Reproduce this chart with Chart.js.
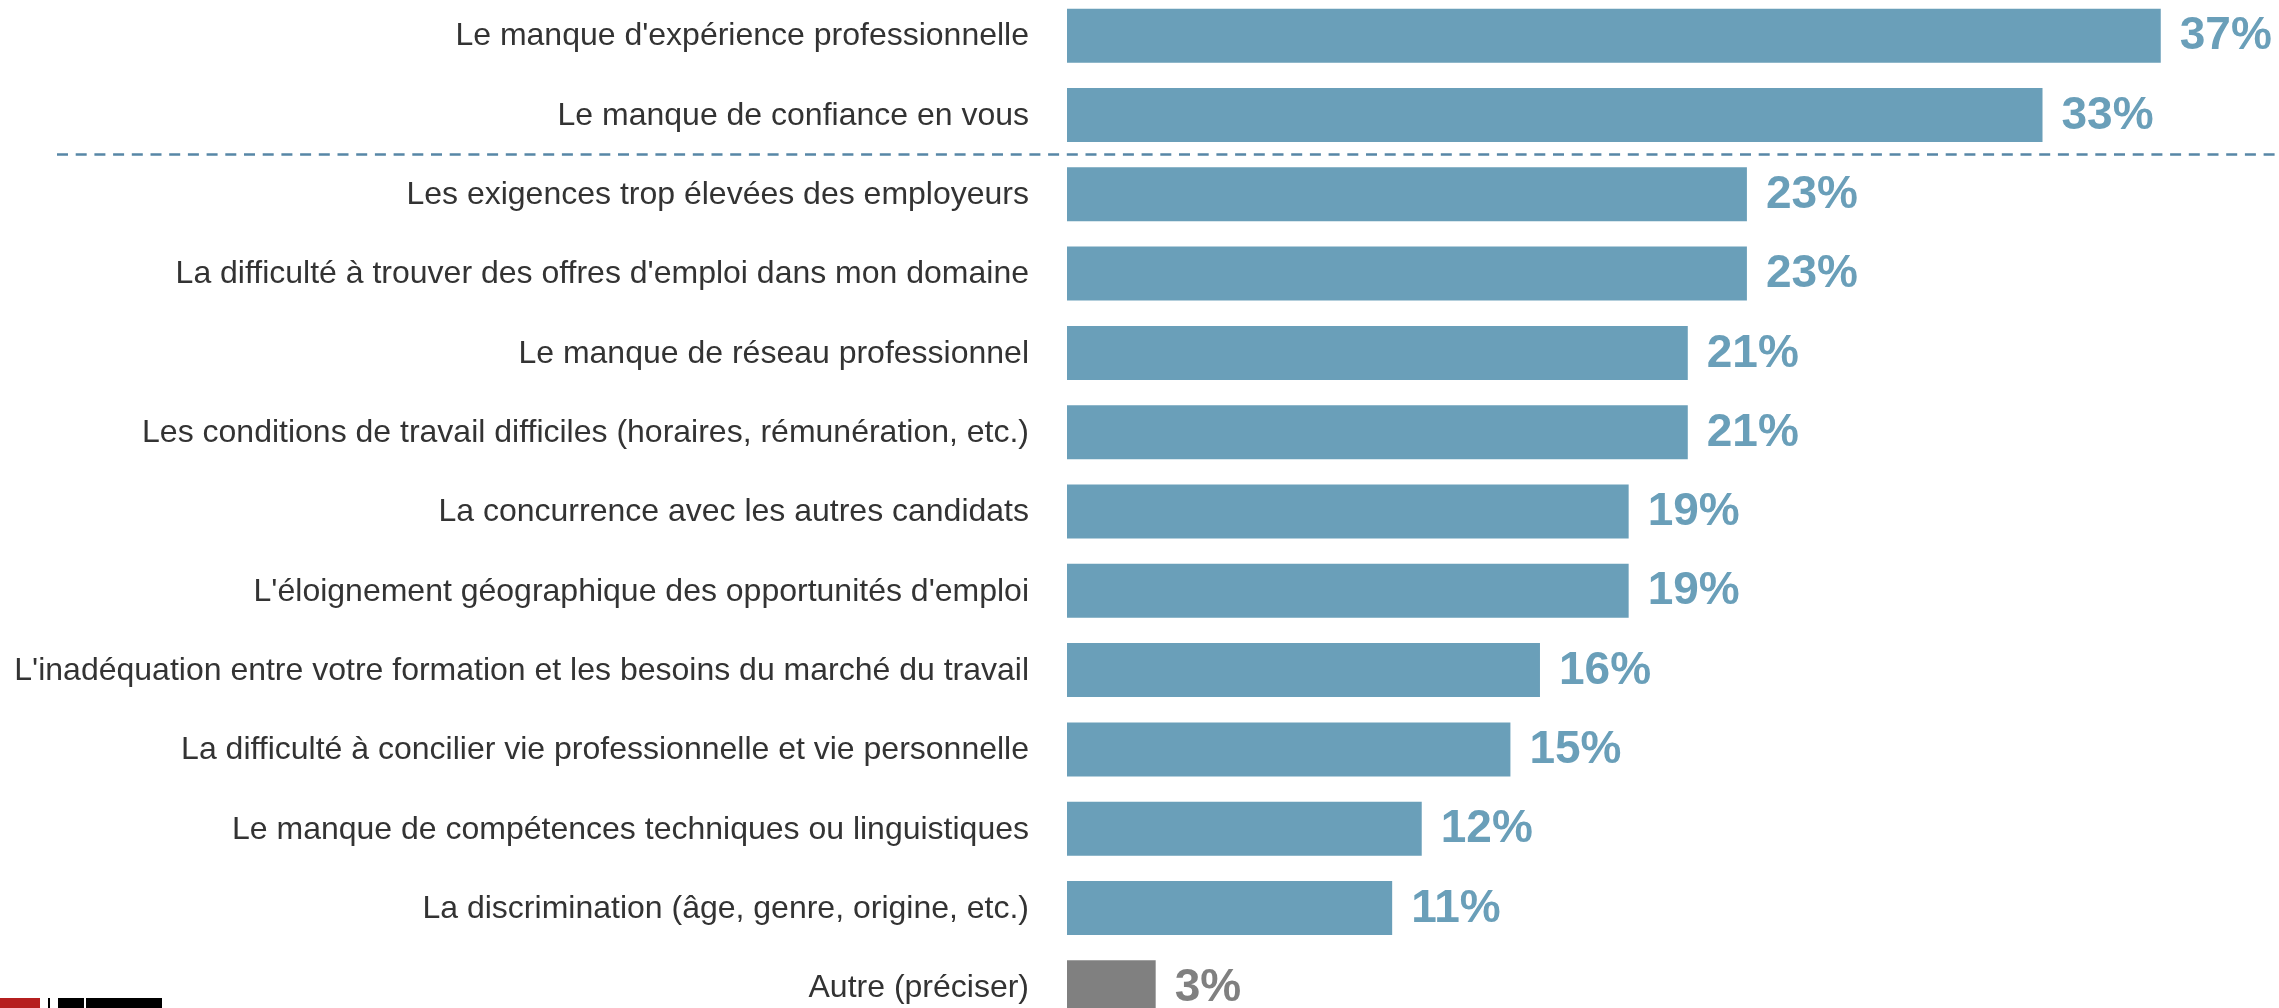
<!DOCTYPE html>
<html lang="fr">
<head>
<meta charset="utf-8">
<title>Obstacles à l'emploi</title>
<script src="https://cdn.jsdelivr.net/npm/chart.js@4.4.1/dist/chart.umd.min.js"></script>
<style>
  html, body { margin: 0; padding: 0; background: #fff; overflow: hidden; width: 2279px; height: 1008px; }
  #wrap { position: absolute; left: 0; top: -4px; width: 2279px; height: 1031px; }
  .logo { position: absolute; }
</style>
</head>
<body>
<div id="wrap"><canvas id="chartObstacles"></canvas></div>
<!-- logo en bas à gauche (coupé par le bord) -->
<div class="logo" style="left:0;top:998px;width:40px;height:10px;background:#b51f1f"></div>
<div class="logo" style="left:48px;top:998px;width:2px;height:10px;background:#000"></div>
<div class="logo" style="left:58px;top:998px;width:104px;height:10px;background:#000"></div>
<div class="logo" style="left:84px;top:998px;width:2px;height:10px;background:#fff"></div>

<script>
// Catégories et pourcentages
const categories = [
  "Le manque d'expérience professionnelle",
  "Le manque de confiance en vous",
  "Les exigences trop élevées des employeurs",
  "La difficulté à trouver des offres d'emploi dans mon domaine",
  "Le manque de réseau professionnel",
  "Les conditions de travail difficiles (horaires, rémunération, etc.)",
  "La concurrence avec les autres candidats",
  "L'éloignement géographique des opportunités d'emploi",
  "L'inadéquation entre votre formation et les besoins du marché du travail",
  "La difficulté à concilier vie professionnelle et vie personnelle",
  "Le manque de compétences techniques ou linguistiques",
  "La discrimination (âge, genre, origine, etc.)",
  "Autre (préciser)"
];
const valeurs = [37, 33, 23, 23, 21, 21, 19, 19, 16, 15, 12, 11, 3];
const etiquettes = ["37%", "33%", "23%", "23%", "21%", "21%", "19%", "19%", "16%", "15%", "12%", "11%", "3%"];

const BLEU = '#6a9fb9';
const GRIS = '#808080';
const couleur = i => categories[i].startsWith('Autre') ? GRIS : BLEU;

// Libellés des catégories à gauche, valeurs à droite des barres,
// ligne pointillée après le top 2
const annotations = {
  id: 'annotations',
  afterDatasetsDraw(chart) {
    const ctx = chart.ctx;
    const y = chart.scales.y;
    const area = chart.chartArea;
    const meta = chart.getDatasetMeta(0);

    ctx.save();
    ctx.font = '32px "Liberation Sans", Arial, sans-serif';
    ctx.fillStyle = '#333333';
    ctx.textAlign = 'right';
    ctx.textBaseline = 'middle';
    categories.forEach((c, i) => {
      ctx.fillText(c, area.left - 38, y.getPixelForValue(i) + 1);
    });
    ctx.restore();

    // ligne pointillée entre la 2e et la 3e catégorie
    const yLigne = (y.getPixelForValue(1) + y.getPixelForValue(2)) / 2;
    ctx.save();
    ctx.strokeStyle = '#5787a6';
    ctx.lineWidth = 2.5;
    ctx.setLineDash([11, 7.7]);
    ctx.beginPath();
    ctx.moveTo(57, yLigne);
    ctx.lineTo(chart.width, yLigne);
    ctx.stroke();
    ctx.restore();

    ctx.save();
    ctx.font = 'bold 46px "Liberation Sans", Arial, sans-serif';
    ctx.textAlign = 'left';
    ctx.textBaseline = 'middle';
    meta.data.forEach((bar, i) => {
      ctx.fillStyle = couleur(i);
      ctx.fillText(etiquettes[i], bar.x + 19, bar.y + 1);
    });
    ctx.restore();
  }
};

new Chart(document.getElementById('chartObstacles'), {
  type: 'bar',
  data: {
    labels: categories,
    datasets: [{
      data: valeurs,
      backgroundColor: ctx => couleur(ctx.dataIndex),
      borderWidth: 0,
      categoryPercentage: 1,
      barPercentage: 0.681
    }]
  },
  options: {
    indexAxis: 'y',
    responsive: true,
    maintainAspectRatio: false,
    animation: false,
    layout: { padding: { left: 1067, right: 0, top: 0, bottom: 0 } },
    plugins: {
      legend: { display: false },
      tooltip: { enabled: false }
    },
    scales: {
      x: { display: false, min: 0, max: 41 },
      y: { display: false }
    }
  },
  plugins: [annotations]
});
</script>
</body>
</html>
